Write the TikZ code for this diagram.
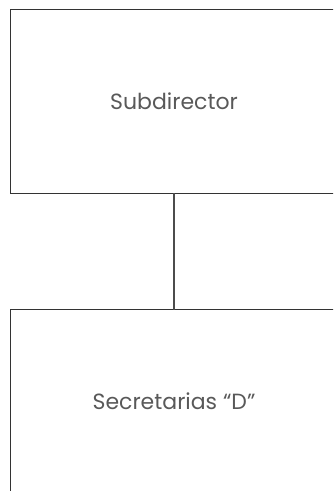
\documentclass[tikz,border=0pt]{standalone}
\usepackage{fontspec}
\setmainfont{Poppins}
\tikzset{
  box/.style={minimum width=326pt, minimum height=183pt,
    inner sep=0pt, text=black!65, font=\fontsize{22}{26}\selectfont},
  side/.style={draw=black!80, line width=0.9pt},
  conn/.style={draw=black!70, line width=1.8pt}
}
\begin{document}
\begin{tikzpicture}[x=1pt,y=-1pt]
      \useasboundingbox (0,0) rectangle (333,491);
      \clip (0,0) rectangle (333,491);
      \draw
        (174,101.5) node[box] (0){Subdirector}
        (174,401.5) node[box] (1){Secretarias “D”};
      \draw[side] (0.north east) -- (0.north west) -- (0.south west) -- (0.south east);
      \draw[side] (1.north east) -- (1.north west) -- (1.south west) -- (1.south east);
      \begin{scope}[-]
        \draw[conn] (0) to (1);
      \end{scope}
    \end{tikzpicture}
\end{document}
